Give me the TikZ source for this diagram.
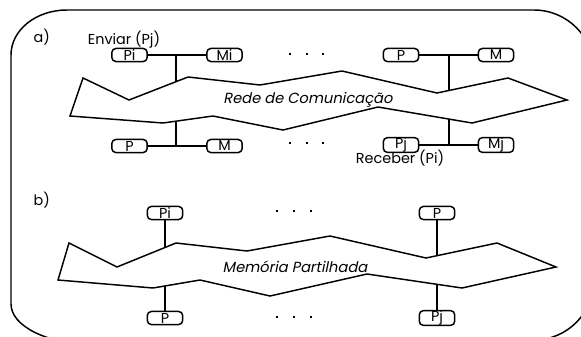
\documentclass[tikz,border=0pt]{standalone}
\usepackage{fontspec}
\setmainfont{Poppins}
\newfontfamily\slfont{Poppins}[FakeSlant=0.2]
\begin{document}
\begin{tikzpicture}[x=0.75pt,y=-0.75pt,
  line width=1.1pt, line join=miter,
  unit/.style={draw, rounded corners=3pt, minimum width=26.5pt, minimum height=9.8pt,
    inner sep=0pt, font=\fontsize{10.8}{10}\selectfont},
  lbl/.style={inner sep=0pt, font=\fontsize{10.8}{12}\selectfont},
  cloudtxt/.style={inner sep=0pt, font=\fontsize{11}{12}\slfont},
  dot/.style={fill, inner sep=0pt, minimum size=2pt}]
\useasboundingbox (0,0) rectangle (581,336);
\clip (0,0) rectangle (581,336);

% outer frame
\draw (11,55) .. controls (11,30) and (36,10) .. (67,10) -- (534,10)
  .. controls (567,10) and (594,37) .. (594,70) -- (594,280)
  .. controls (594,313) and (567,340) .. (534,340) -- (91,344)
  .. controls (47,344) and (11,326) .. (11,304) -- cycle;

% ---------- a) message passing ----------
\node[lbl, anchor=west] (la) at (33,37) {a)};
\draw (83,78) -- (129,100) -- (188,77) -- (260,85) -- (342,71) -- (437,93)
  -- (508,78) -- (567,100) -- (472,123) -- (378,107) -- (283,130)
  -- (213,116) -- (163,123) -- (70,116) -- cycle;
\node[cloudtxt] (net) at (308,100) {Rede de Comunicação};

\node[unit] (pa1) at (129.5,55) {Pi};
\node[unit] (ma1) at (224.5,55) {Mi};
\node[unit] (pa2) at (401,55) {P};
\node[unit] (ma2) at (496,55) {M};
\node[unit] (pb1) at (129.5,146) {P};
\node[unit] (mb1) at (224.5,146) {M};
\node[unit] (pb2) at (401,145) {Pj};
\node[unit] (mb2) at (496,145) {Mj};

\node[lbl] (send) at (124,40) {Enviar (Pj)};
\node[lbl] (recv) at (400,158) {Receber (Pi)};

\coordinate (ja1) at (176,55);   \coordinate (na1) at (176,82);
\coordinate (ja2) at (449,55);   \coordinate (na2) at (449,90.5);
\coordinate (jb1) at (176,146);  \coordinate (nb1) at (176,121);
\coordinate (jb2) at (449,145);  \coordinate (nb2) at (449,119);

\draw (pa1) -- (ma1);  \draw (ja1) -- (na1);
\draw (pa2) -- (ma2);  \draw (ja2) -- (na2);
\draw (pb1) -- (mb1);  \draw (jb1) -- (nb1);
\draw (pb2) -- (mb2);  \draw (jb2) -- (nb2);

\foreach \x in {290,307,323} {
  \node[dot] at (\x,54) {};
  \node[dot] at (\x,143) {};
}

% ---------- b) shared memory ----------
\node[lbl, anchor=west] (lb) at (33,200) {b)};
\draw (69,243) -- (117,267) -- (176,243) -- (247,251) -- (330,236) -- (426,258)
  -- (497,243) -- (556,267) -- (462,288) -- (367,274) -- (270,296)
  -- (200,280) -- (153,288) -- (58,280) -- cycle;
\node[cloudtxt] (mem) at (295,267) {Memória Partilhada};

\node[unit] (pc1) at (165,213) {Pi};
\node[unit] (pc2) at (437,213) {P};
\node[unit] (pd1) at (165,318) {P};
\node[unit] (pd2) at (437,318) {Pj};

\coordinate (mc1) at (165,248);
\coordinate (mc2) at (437,255.7);
\coordinate (md1) at (165,286);
\coordinate (md2) at (437,284.3);

\draw (pc1) -- (mc1);
\draw (pc2) -- (mc2);
\draw (pd1) -- (md1);
\draw (pd2) -- (md2);

\foreach \x in {277,294,311} {
  \node[dot] at (\x,211) {};
  \node[dot] at (\x,317) {};
}
\end{tikzpicture}
\end{document}
